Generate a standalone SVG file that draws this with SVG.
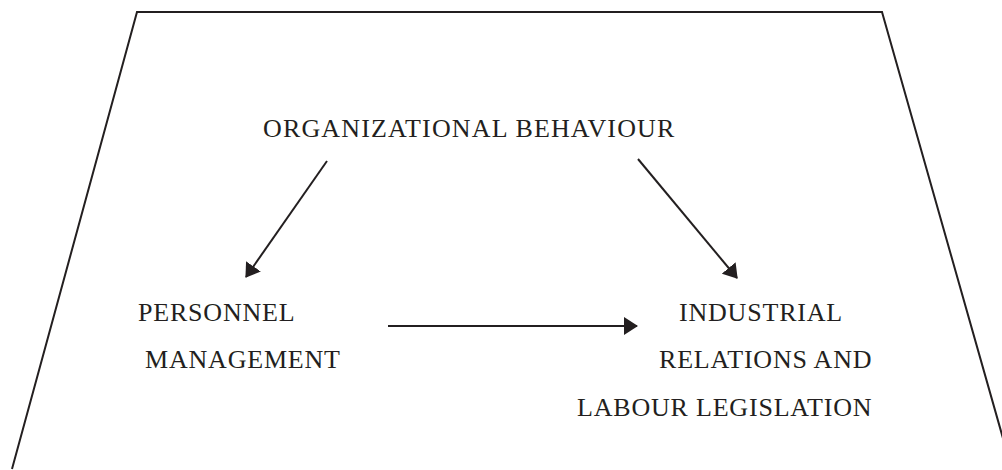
<svg xmlns="http://www.w3.org/2000/svg" width="1002" height="470" viewBox="0 0 1002 470">
  <style>
    .lbl { font-family: "Liberation Serif", "Times New Roman", serif; font-size: 26px; letter-spacing: 0.8px; fill: #231f20; }
    .ln { stroke: #231f20; stroke-width: 2; fill: none; }
  </style>
  <defs>
    <marker id="ah" markerUnits="userSpaceOnUse" markerWidth="15" markerHeight="19" refX="13" refY="9" orient="auto" viewBox="0 0 15 18">
      <path d="M0,0 L14,9 L0,18 Z" fill="#231f20"/>
    </marker>
  </defs>
  <rect width="1002" height="470" fill="#ffffff"/>
  <g id="frame">
    <polyline class="ln" points="12,469 137,12 882,12 1012,470"/>
  </g>
  <g id="org-behaviour">
    <text class="lbl" x="263" y="137" style="letter-spacing:1.15px">ORGANIZATIONAL BEHAVIOUR</text>
  </g>
  <g id="personnel-management">
    <text class="lbl" x="138" y="321">PERSONNEL</text>
    <text class="lbl" x="145" y="368">MANAGEMENT</text>
  </g>
  <g id="industrial-relations">
    <text class="lbl" x="679" y="321">INDUSTRIAL</text>
    <text class="lbl" x="659" y="368">RELATIONS AND</text>
    <text class="lbl" x="577" y="416">LABOUR LEGISLATION</text>
  </g>
  <g id="connectors">
    <line class="ln" x1="327" y1="161" x2="246" y2="277" marker-end="url(#ah)"/>
    <line class="ln" x1="638" y1="159" x2="737" y2="278" marker-end="url(#ah)"/>
    <line class="ln" x1="388" y1="326" x2="637" y2="326" marker-end="url(#ah)"/>
  </g>
</svg>
